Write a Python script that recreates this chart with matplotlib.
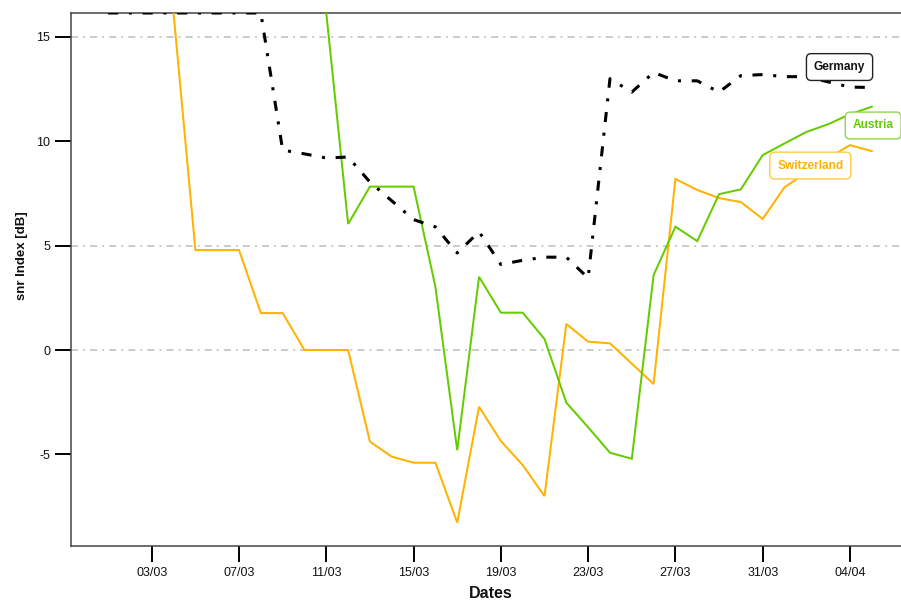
import matplotlib
matplotlib.use("Agg")
import matplotlib.pyplot as plt
import matplotlib.dates as mdates
import numpy as np
import pandas as pd

plt.rcParams['font.family'] = ['Liberation Sans', 'DejaVu Sans']

# ---------------- data ----------------
TOP = 16.15  # values at/above the top of the axis (shown flush with the upper frame)

germany_dates = pd.date_range("2020-03-01", "2020-04-05", freq="D")
germany = [TOP, TOP, TOP, TOP, TOP, TOP, TOP, TOP,
           9.58, 9.4, 9.2, 9.25, 8.05, 7.15, 6.25, 5.9, 4.65, 5.67, 4.1, 4.3,
           4.45, 4.45, 3.45, 13.0, 12.36, 13.3, 12.9, 12.9, 12.36, 13.15, 13.2,
           13.1, 13.1, 12.85, 12.6, 12.58]

austria_dates = pd.date_range("2020-03-11", "2020-04-05", freq="D")
austria = [TOP, 6.04, 7.83, 7.83, 7.83, 3.03, -4.8, 3.51, 1.79, 1.79, 0.53,
           -2.52, -3.7, -4.92, -5.21, 3.59, 5.91, 5.22, 7.47, 7.7, 9.34, 9.9,
           10.45, 10.82, 11.3, 11.66]

switz_dates = pd.date_range("2020-03-04", "2020-04-05", freq="D")
switzerland = [TOP, 4.79, 4.79, 4.79, 1.77, 1.77, 0.0, 0.0, 0.0, -4.39, -5.11,
               -5.4, -5.4, -8.27, -2.72, -4.36, -5.51, -7.0, 1.25, 0.4, 0.32,
               -0.65, -1.63, 8.2, 7.67, 7.28, 7.09, 6.28, 7.8, 8.5, 9.2, 9.82,
               9.53]

series_names = ["Germany", "Austria", "Switzerland"]
label_dates = ["2020-04-03 12:30", "2020-04-05 01:30", "2020-04-02 04:20"]
label_values = [13.56, 10.76, 8.84]

tick_dates = pd.date_range("2020-03-03", "2020-04-04", freq="4D")
tick_labels = [d.strftime("%d/%m") for d in tick_dates]
grid_values = [15, 5, 0]
ytick_values = [-5, 0, 5, 10, 15]

# ---------------- style ----------------
C_GER = "#000000"
C_AUT = "#66CC00"
C_SUI = "#FFB300"
EDGE = {"Germany": "#222222", "Austria": "#8CD94A", "Switzerland": "#FFC94A"}
TXT = {"Germany": "#111111", "Austria": C_AUT, "Switzerland": C_SUI}

fig = plt.figure(figsize=(9.01, 6.00), dpi=100)
W, H = 901, 600
ax = fig.add_axes([71 / W, 1 - 546 / H, (910 - 71) / W, (546 - 13) / H])

base = mdates.date2num(pd.Timestamp("2020-03-03"))
ax.set_xlim(base - 3.70, base + 34.75)
ax.set_ylim(-9.39, TOP)

for g in grid_values:
    ax.axhline(g, color="#BDBDBD", lw=1.1, linestyle=(0, (4.6, 3.3, 1.3, 3.3)), zorder=1)

ax.plot(switz_dates, switzerland, color=C_SUI, lw=1.45, zorder=3, solid_joinstyle="miter")
ax.plot(austria_dates, austria, color=C_AUT, lw=1.45, zorder=3, solid_joinstyle="miter")
ax.plot(germany_dates, germany, color=C_GER, lw=2.2, zorder=4,
        linestyle=(0, (3.3, 3.5, 1.0, 3.5)), dash_capstyle="butt")

for name, ld, lv in zip(series_names, label_dates, label_values):
    ax.text(mdates.date2num(pd.Timestamp(ld)), lv, name, ha="center", va="center",
            fontsize=8.6, fontweight="bold", color=TXT[name], zorder=6,
            bbox=dict(boxstyle="round,pad=0.62,rounding_size=0.4", fc="white",
                      ec=EDGE[name], lw=1.0))

ax.set_xticks(tick_dates)
ax.set_xticklabels(tick_labels)
ax.set_yticks(ytick_values)
ax.set_yticklabels([str(v) for v in ytick_values])
ax.tick_params(axis="both", length=11.5, width=1.4, color="black", labelsize=9,
               labelcolor="#111111", pad=3.6)

for s in ax.spines.values():
    s.set_color("#444444")
    s.set_linewidth(1.1)

ax.set_xlabel("Dates", fontsize=11.5, fontweight="bold", color="#111111")
ax.xaxis.set_label_coords(0.5, (546 - 586.5) / 533)
ax.set_ylabel("snr Index [dB]", fontsize=9.5, fontweight="bold", color="#111111")
ax.yaxis.set_label_coords((28 - 71) / 839, (546 - 256) / 533)

fig.savefig("out.png", dpi=100)
